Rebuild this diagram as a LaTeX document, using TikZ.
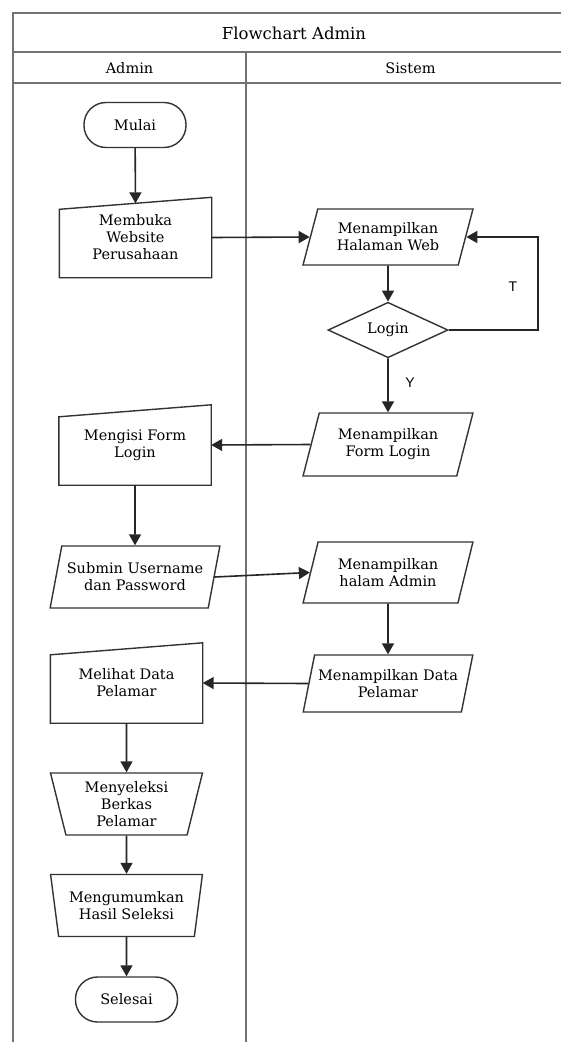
\documentclass[tikz,border=0pt]{standalone}
\usepackage{fontspec}
\setmainfont{DejaVu Serif}
\newfontfamily\labelfont{Liberation Sans}
\usetikzlibrary{positioning, arrows.meta, shapes.geometric}

\begin{document}
\begin{tikzpicture}
    [
        x=1pt, y=-1pt,
        font=\fontsize{14.5}{17}\selectfont,
        base_node/.style={draw=black!80, line width=1.4pt, align=center, inner sep=1pt},
        term_node/.style={base_node, rectangle, rounded corners=22pt, minimum width=102pt, minimum height=45pt},
        io_node/.style={base_node, trapezium, trapezium left angle=70, trapezium right angle=110, trapezium stretches=true, minimum width=170pt},
        op_node/.style={base_node, trapezium, trapezium left angle=103, trapezium right angle=103, trapezium stretches=true, minimum width=152pt, minimum height=62pt},
        in_node/.style={rectangle, align=center, minimum width=152pt, minimum height=80pt},
        in_line/.style={draw=black!80, line width=1.4pt},
        dec_node/.style={base_node, diamond, minimum width=120pt, minimum height=50pt, inner sep=0pt},
        flow/.style={-{Triangle[length=11pt, width=12pt]}, line width=1.6pt, color=black!85},
        lane/.style={line width=1.8pt, color=black!55},
        yt_label/.style={font=\labelfont\fontsize{14}{16}\selectfont},
    ]
        \clip (0,0) rectangle (561,1042) ;
        \fill[white] (0,0) rectangle (561,1042) ;
        % swimlanes
        \draw[lane] (13,1042) -- (13,13) -- (575,13) ;
        \draw[lane] (13,52) -- (575,52) ;
        \draw[lane] (13,83) -- (575,83) ;
        \draw[lane] (246,52) -- (246,1042) ;
        \node[font=\fontsize{16.5}{19}\selectfont] (title) at (294,33) {Flowchart Admin} ;
        \node (lane_admin) at (129.5,68) {Admin} ;
        \node (lane_sistem) at (410.5,68) {Sistem} ;
        % admin
        \node[term_node] (mulai) at (135,125) {Mulai} ;
        \node[in_node] (membuka) at (135.5,237.5) {Membuka\\Website\\Perusahaan} ;
        \node[in_node] (mengisi) at (135,445) {Mengisi Form\\Login} ;
        \node[io_node, minimum height=62pt] (submin) at (135,577) {Submin Username\\dan Password} ;
        \node[in_node] (melihat) at (126.5,683) {Melihat Data\\Pelamar} ;
        \node[op_node] (seleksi) at (126.5,804) {Menyeleksi\\Berkas\\Pelamar} ;
        \node[op_node] (umumkan) at (126.5,905.5) {Mengumumkan\\Hasil Seleksi} ;
        \node[term_node] (selesai) at (126.5,999.5) {Selesai} ;
        \draw[in_line] (membuka.south west) -- (membuka.south east) -- (membuka.north east) -- ([yshift=-12pt]membuka.north west) -- cycle ;
        \draw[in_line] (mengisi.south west) -- (mengisi.south east) -- (mengisi.north east) -- ([yshift=-12pt]mengisi.north west) -- cycle ;
        \draw[in_line] (melihat.south west) -- (melihat.south east) -- (melihat.north east) -- ([yshift=-12pt]melihat.north west) -- cycle ;
        % sistem
        \node[io_node, minimum height=56pt] (halaman) at (388,237) {Menampilkan\\Halaman Web} ;
        \node[dec_node] (login) at (388,330) {Login} ;
        \node[io_node, minimum height=63pt] (formlogin) at (388,444.5) {Menampilkan\\Form Login} ;
        \node[io_node, minimum height=61pt] (halamadmin) at (388,572.5) {Menampilkan\\halam Admin} ;
        \node[io_node, minimum height=57pt] (datapelamar) at (388,683.5) {Menampilkan Data\\Pelamar} ;
        \node[yt_label] (lbl_t) at (513,287) {T} ;
        \node[yt_label] (lbl_y) at (410,383) {Y} ;
        % arrows
        \draw[flow] (mulai) -- ([yshift=-6pt]membuka.north) ;
        \draw[flow] (membuka.east) -- (halaman.west) ;
        \draw[flow] (halaman.south) -- (login.north) ;
        \draw[flow] (login.east) -- ++(89,0) |- (halaman.east) ;
        \draw[flow] (login.south) -- (formlogin.north) ;
        \draw[flow] (formlogin.west) -- (mengisi.east) ;
        \draw[flow] (mengisi.south) -- (submin.north) ;
        \draw[flow] (submin.east) -- (halamadmin.west) ;
        \draw[flow] (halamadmin.south) -- (datapelamar.north) ;
        \draw[flow] (datapelamar.west) -- (melihat.east) ;
        \draw[flow] (melihat.south) -- (seleksi.north) ;
        \draw[flow] (seleksi.south) -- (umumkan.north) ;
        \draw[flow] (umumkan.south) -- (selesai.north) ;
\end{tikzpicture}
\end{document}
